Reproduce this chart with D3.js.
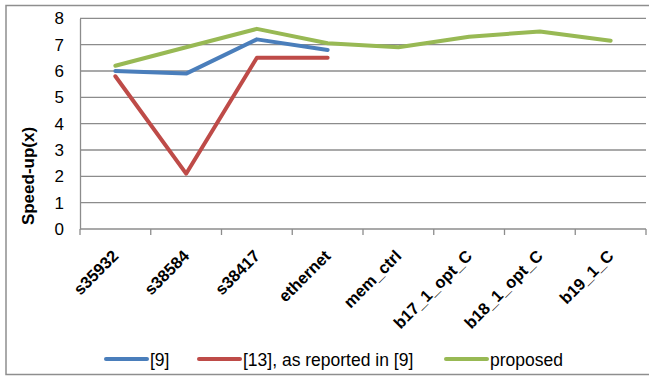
<!DOCTYPE html>
<html>
<head>
<meta charset="utf-8">
<script src="https://cdn.jsdelivr.net/npm/d3@7"></script>
<style>
  html, body { margin: 0; padding: 0; background: #fff; }
  svg { display: block; font-family: "Liberation Sans", Arial, sans-serif; }
</style>
</head>
<body>
<svg id="chart" width="649" height="377"></svg>
<script>
// Benchmark circuits along the x axis
const categories = ["s35932", "s38584", "s38417", "ethernet", "mem_ctrl", "b17_1_opt_C", "b18_1_opt_C", "b19_1_C"];
// Speed-up per benchmark (null = not reported)
const ref9 = [6.0, 5.9, 7.2, 6.8, null, null, null, null];
const ref13 = [5.8, 2.1, 6.5, 6.5, null, null, null, null];
const proposed = [6.2, 6.9, 7.6, 7.05, 6.9, 7.3, 7.5, 7.15];
const yTicks = [0, 1, 2, 3, 4, 5, 6, 7, 8];

const seriesList = [
  { name: "[9]", values: ref9, color: "#4a7ebb" },
  { name: "[13], as reported in [9]", values: ref13, color: "#be4b48" },
  { name: "proposed", values: proposed, color: "#98b954" }
];

const svg = d3.select("#chart");
const plotLeft = 80, plotRight = 646, plotTop = 18.3, plotBottom = 229;

// outer chart frame (runs off the right edge)
svg.append("rect")
  .attr("x", 6).attr("y", 5.5).attr("width", 660).attr("height", 369)
  .attr("fill", "none").attr("stroke", "#8e8e8e").attr("stroke-width", 1.5);

const x = d3.scaleBand().domain(categories).range([plotLeft, plotRight]);
const y = d3.scaleLinear().domain([0, 8]).range([plotBottom, plotTop]);

// horizontal gridlines
svg.append("g").selectAll("line").data(yTicks.filter(d => d > 0)).join("line")
  .attr("x1", plotLeft).attr("x2", plotRight)
  .attr("y1", d => y(d)).attr("y2", d => y(d))
  .attr("stroke", "#8c8c8c").attr("stroke-width", 1.3);

// y axis
const yAxis = svg.append("g")
  .attr("transform", `translate(${plotLeft},0)`)
  .call(d3.axisLeft(y).tickValues(yTicks).tickSize(0).tickPadding(16));
yAxis.select(".domain").attr("stroke", "#8c8c8c").attr("stroke-width", 1.3);
yAxis.selectAll("text").attr("font-size", 17).attr("fill", "#000");

// x axis with ticks between categories
const xAxisG = svg.append("g").attr("transform", `translate(0,${plotBottom})`);
xAxisG.append("line").attr("x1", plotLeft).attr("x2", plotRight)
  .attr("stroke", "#8c8c8c").attr("stroke-width", 1.3);
const boundaries = categories.map(c => x(c)).concat([plotRight]);
xAxisG.selectAll("line.tick").data(boundaries).join("line").attr("class", "tick")
  .attr("x1", d => d).attr("x2", d => d)
  .attr("y1", 0).attr("y2", 6)
  .attr("stroke", "#8c8c8c").attr("stroke-width", 1.3);

// category labels slanted at 45 degrees
svg.append("g").selectAll("text").data(categories).join("text")
  .attr("transform", d => `translate(${x(d) + x.bandwidth() / 2 + 4},${plotBottom + 28}) rotate(-45)`)
  .attr("text-anchor", "end")
  .attr("font-size", 16.5).attr("font-weight", "bold").attr("fill", "#000")
  .text(d => d);

// y axis title
svg.append("text")
  .attr("transform", `translate(34,176) rotate(-90)`)
  .attr("text-anchor", "middle")
  .attr("font-size", 17).attr("font-weight", "bold").attr("fill", "#000")
  .text("Speed-up(x)");

// series lines
const line = d3.line()
  .defined(d => d != null)
  .x((d, i) => x(categories[i]) + x.bandwidth() / 2)
  .y(d => y(d));

svg.append("g").selectAll("path").data(seriesList).join("path")
  .attr("d", s => line(s.values))
  .attr("fill", "none")
  .attr("stroke", s => s.color)
  .attr("stroke-width", 4)
  .attr("stroke-linecap", "round")
  .attr("stroke-linejoin", "round");

// legend
const legendPos = [106, 199, 446];
const legend = svg.append("g").selectAll("g").data(seriesList).join("g")
  .attr("transform", (s, i) => `translate(${legendPos[i]},359)`);
legend.append("line").attr("x1", 0).attr("x2", 41).attr("y1", 0).attr("y2", 0)
  .attr("stroke", s => s.color).attr("stroke-width", 4).attr("stroke-linecap", "round");
legend.append("text").attr("x", 44).attr("y", 6.5)
  .attr("font-size", 17.5).attr("fill", "#000")
  .text(s => s.name);
</script>
</body>
</html>
